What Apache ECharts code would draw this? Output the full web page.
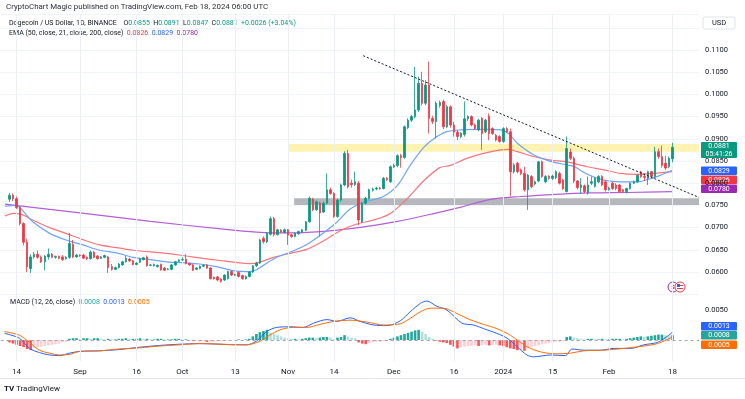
<!DOCTYPE html>
<html>
<head>
<meta charset="utf-8">
<script src="https://cdn.jsdelivr.net/npm/echarts@6/dist/echarts.min.js"></script>
<style>
  html, body { margin: 0; padding: 0; background: #fff; }
  #chart { width: 745px; height: 399px; }
</style>
</head>
<body>
<div id="chart"></div>
<script>
  // daily candles from 2023-08-14, [open, close, low, high]
  const candles = [
    [0.0764,0.0773,0.0758,0.0778],[0.0773,0.0765,0.0760,0.0777],[0.0765,0.0745,0.0742,0.0770],[0.0745,0.0709,0.0705,0.0748],
    [0.0709,0.0667,0.0660,0.0712],[0.0667,0.0612,0.0600,0.0675],[0.0608,0.0634,0.0598,0.0640],[0.0634,0.0640,0.0630,0.0645],
    [0.0640,0.0633,0.0630,0.0648],[0.0633,0.0623,0.0620,0.0637],[0.0623,0.0636,0.0604,0.0638],[0.0634,0.0640,0.0628,0.0653],
    [0.0640,0.0633,0.0631,0.0643],[0.0633,0.0635,0.0630,0.0637],[0.0635,0.0631,0.0629,0.0637],[0.0634,0.0628,0.0625,0.0638],
    [0.0630,0.0633,0.0628,0.0636],[0.0633,0.0664,0.0630,0.0688],[0.0662,0.0634,0.0631,0.0672],[0.0634,0.0638,0.0632,0.0641],
    [0.0638,0.0637,0.0634,0.0640],[0.0638,0.0631,0.0629,0.0641],[0.0633,0.0630,0.0627,0.0635],[0.0630,0.0645,0.0628,0.0648],
    [0.0645,0.0633,0.0631,0.0647],[0.0636,0.0630,0.0628,0.0638],[0.0631,0.0634,0.0629,0.0636],[0.0633,0.0637,0.0631,0.0639],
    [0.0634,0.0610,0.0598,0.0636],[0.0612,0.0606,0.0603,0.0618],[0.0606,0.0610,0.0604,0.0612],[0.0610,0.0618,0.0608,0.0620],
    [0.0616,0.0623,0.0614,0.0625],[0.0623,0.0631,0.0621,0.0636],[0.0629,0.0625,0.0623,0.0632],[0.0625,0.0617,0.0615,0.0627],
    [0.0617,0.0620,0.0615,0.0622],[0.0622,0.0630,0.0620,0.0632],[0.0628,0.0632,0.0626,0.0634],[0.0634,0.0614,0.0612,0.0637],
    [0.0615,0.0616,0.0613,0.0618],[0.0614,0.0617,0.0612,0.0619],[0.0612,0.0615,0.0610,0.0617],[0.0617,0.0605,0.0603,0.0619],
    [0.0609,0.0604,0.0602,0.0611],[0.0606,0.0607,0.0604,0.0609],[0.0606,0.0616,0.0604,0.0618],[0.0616,0.0623,0.0614,0.0625],
    [0.0624,0.0627,0.0622,0.0629],[0.0627,0.0628,0.0625,0.0633],[0.0629,0.0619,0.0617,0.0640],[0.0619,0.0616,0.0614,0.0621],
    [0.0616,0.0604,0.0602,0.0618],[0.0606,0.0609,0.0604,0.0611],[0.0608,0.0613,0.0606,0.0615],[0.0613,0.0615,0.0611,0.0617],
    [0.0616,0.0609,0.0607,0.0618],[0.0609,0.0585,0.0583,0.0611],[0.0588,0.0585,0.0583,0.0590],[0.0589,0.0582,0.0579,0.0591],
    [0.0584,0.0579,0.0576,0.0586],[0.0582,0.0593,0.0580,0.0595],[0.0585,0.0601,0.0583,0.0603],[0.0601,0.0593,0.0591,0.0603],
    [0.0593,0.0594,0.0591,0.0596],[0.0599,0.0590,0.0588,0.0601],[0.0592,0.0585,0.0583,0.0594],[0.0585,0.0590,0.0583,0.0592],
    [0.0590,0.0600,0.0588,0.0602],[0.0600,0.0614,0.0598,0.0616],[0.0614,0.0620,0.0611,0.0623],[0.0620,0.0672,0.0618,0.0675],
    [0.0676,0.0668,0.0664,0.0680],[0.0668,0.0687,0.0665,0.0690],[0.0685,0.0720,0.0682,0.0725],[0.0720,0.0684,0.0680,0.0724],
    [0.0684,0.0695,0.0682,0.0697],[0.0694,0.0690,0.0688,0.0697],[0.0689,0.0695,0.0687,0.0698],[0.0695,0.0683,0.0661,0.0697],
    [0.0684,0.0680,0.0677,0.0686],[0.0680,0.0687,0.0678,0.0689],[0.0686,0.0691,0.0684,0.0693],[0.0690,0.0695,0.0688,0.0697],
    [0.0694,0.0713,0.0692,0.0715],[0.0713,0.0766,0.0711,0.0770],[0.0764,0.0740,0.0737,0.0767],[0.0740,0.0758,0.0738,0.0761],
    [0.0755,0.0733,0.0680,0.0758],[0.0735,0.0755,0.0733,0.0758],[0.0755,0.0785,0.0752,0.0822],[0.0785,0.0777,0.0774,0.0790],
    [0.0777,0.0725,0.0722,0.0780],[0.0725,0.0762,0.0722,0.0765],[0.0762,0.0796,0.0758,0.0799],[0.0796,0.0867,0.0793,0.0872],
    [0.0867,0.0792,0.0788,0.0875],[0.0800,0.0797,0.0790,0.0808],[0.0797,0.0803,0.0794,0.0826],[0.0800,0.0717,0.0705,0.0805],
    [0.0713,0.0755,0.0710,0.0758],[0.0755,0.0766,0.0752,0.0769],[0.0766,0.0785,0.0763,0.0788],[0.0784,0.0787,0.0781,0.0790],
    [0.0787,0.0789,0.0784,0.0792],[0.0789,0.0788,0.0785,0.0792],[0.0788,0.0811,0.0786,0.0814],[0.0811,0.0808,0.0805,0.0814],
    [0.0803,0.0837,0.0801,0.0840],[0.0837,0.0840,0.0834,0.0844],[0.0840,0.0862,0.0836,0.0865],[0.0862,0.0858,0.0835,0.0866],
    [0.0858,0.0927,0.0855,0.0930],[0.0925,0.0942,0.0922,0.0946],[0.0942,0.0950,0.0938,0.0954],[0.0950,0.0965,0.0946,0.1062],
    [0.0965,0.1025,0.0960,0.1040],[0.1025,0.0980,0.0975,0.1051],[0.0980,0.1021,0.0976,0.1032],[0.1021,0.0946,0.0912,0.1074],
    [0.0946,0.0939,0.0933,0.0952],[0.0939,0.0980,0.0901,0.0984],[0.0975,0.0982,0.0970,0.0986],[0.0984,0.0927,0.0922,0.0988],
    [0.0927,0.0972,0.0924,0.0976],[0.0972,0.0931,0.0925,0.0975],[0.0931,0.0915,0.0905,0.0938],[0.0915,0.0905,0.0897,0.0920],
    [0.0905,0.0912,0.0901,0.0915],[0.0910,0.0945,0.0905,0.0984],[0.0945,0.0950,0.0940,0.0953],[0.0950,0.0931,0.0928,0.0953],
    [0.0931,0.0923,0.0920,0.0934],[0.0920,0.0942,0.0917,0.0945],[0.0946,0.0912,0.0875,0.0949],[0.0916,0.0942,0.0913,0.0945],
    [0.0951,0.0912,0.0897,0.0957],[0.0923,0.0912,0.0909,0.0926],[0.0908,0.0897,0.0894,0.0911],[0.0905,0.0894,0.0891,0.0908],
    [0.0894,0.0923,0.0891,0.0926],[0.0923,0.0916,0.0913,0.0926],[0.0916,0.0826,0.0770,0.0923],[0.0826,0.0841,0.0822,0.0845],
    [0.0845,0.0826,0.0822,0.0848],[0.0830,0.0822,0.0818,0.0833],[0.0822,0.0785,0.0781,0.0837],[0.0785,0.0818,0.0740,0.0821],
    [0.0815,0.0792,0.0789,0.0818],[0.0798,0.0803,0.0795,0.0806],[0.0805,0.0848,0.0802,0.0850],[0.0848,0.0815,0.0812,0.0851],
    [0.0803,0.0815,0.0800,0.0818],[0.0815,0.0811,0.0808,0.0818],[0.0811,0.0816,0.0807,0.0819],[0.0812,0.0826,0.0809,0.0829],
    [0.0822,0.0800,0.0797,0.0826],[0.0807,0.0788,0.0785,0.0810],[0.0781,0.0878,0.0779,0.0905],[0.0870,0.0856,0.0852,0.0878],
    [0.0856,0.0805,0.0800,0.0860],[0.0805,0.0790,0.0786,0.0807],[0.0790,0.0796,0.0777,0.0811],[0.0794,0.0781,0.0778,0.0797],
    [0.0779,0.0796,0.0774,0.0815],[0.0800,0.0803,0.0796,0.0815],[0.0793,0.0811,0.0790,0.0814],[0.0803,0.0815,0.0800,0.0818],
    [0.0815,0.0796,0.0793,0.0818],[0.0803,0.0785,0.0781,0.0806],[0.0786,0.0789,0.0783,0.0792],[0.0800,0.0788,0.0785,0.0803],
    [0.0796,0.0788,0.0784,0.0800],[0.0796,0.0781,0.0778,0.0798],[0.0785,0.0781,0.0778,0.0787],[0.0781,0.0788,0.0777,0.0790],
    [0.0788,0.0800,0.0786,0.0802],[0.0800,0.0803,0.0798,0.0806],[0.0803,0.0818,0.0801,0.0820],[0.0825,0.0815,0.0812,0.0828],
    [0.0815,0.0813,0.0805,0.0822],[0.0811,0.0826,0.0796,0.0828],[0.0826,0.0815,0.0812,0.0828],[0.0815,0.0871,0.0811,0.0882],
    [0.0871,0.0860,0.0855,0.0878],[0.0860,0.0840,0.0835,0.0885],[0.0845,0.0834,0.0830,0.0862],[0.0837,0.0856,0.0834,0.0860],
    [0.0855,0.0881,0.0847,0.0891]
  ];

  // MACD histogram, one value per candle
  const macdHist = [
    -0.0004,-0.0006,-0.0008,-0.0010,-0.0012,-0.0015,-0.0017,-0.0013,-0.0012,-0.0011,-0.0010,-0.0009,-0.0008,-0.0007,-0.0006,-0.0004,
    -0.0003,0.0002,0.0003,0.0003,0.0002,0.0003,0.0003,0.0002,0.0003,0.0003,0.0002,0.0001,0.0002,0.0001,0.0001,0.0002,
    0.0002,0.0003,0.0002,0.0002,0.0002,0.0003,0.0002,0.0002,0.0001,0.0001,0.0002,0.0002,0.0001,0.0001,0.0001,0.0002,
    0.0002,0.0001,0.0001,0.0000,-0.0001,-0.0001,-0.0002,-0.0002,-0.0003,-0.0003,-0.0003,-0.0002,-0.0002,-0.0001,-0.0001,0.0000,
    0.0000,0.0001,0.0000,0.0001,0.0002,0.0006,0.0010,0.0013,0.0015,0.0017,0.0012,0.0010,0.0008,0.0006,0.0004,0.0003,
    0.0002,0.0002,0.0001,0.0002,0.0003,0.0004,0.0004,0.0003,0.0004,0.0005,0.0005,0.0004,0.0002,0.0004,0.0005,0.0008,
    0.0006,0.0004,0.0003,-0.0004,-0.0006,-0.0007,-0.0005,-0.0004,-0.0003,-0.0003,-0.0002,-0.0001,0.0002,0.0004,0.0006,0.0008,
    0.0010,0.0012,0.0014,0.0016,0.0017,0.0014,0.0010,0.0005,0.0002,-0.0001,-0.0003,-0.0004,-0.0005,-0.0008,-0.0011,-0.0014,
    -0.0012,-0.0011,-0.0010,-0.0010,-0.0009,-0.0010,-0.0009,-0.0008,-0.0009,-0.0008,-0.0008,-0.0009,-0.0010,-0.0012,-0.0014,-0.0015,
    -0.0017,-0.0017,-0.0018,-0.0014,-0.0012,-0.0010,-0.0009,-0.0007,-0.0006,-0.0005,-0.0004,-0.0003,-0.0003,-0.0002,0.0005,0.0006,
    0.0004,0.0003,0.0002,0.0001,0.0002,0.0002,0.0001,0.0001,0.0002,0.0001,0.0001,0.0002,0.0002,0.0002,0.0001,0.0002,
    0.0003,0.0004,0.0005,0.0006,0.0005,0.0006,0.0007,0.0008,0.0009,0.0009,0.0008,0.0007,0.0008
  ];

  // indicator lines, [day, value]
  const ema21 = [[-1.3,0.0748],[2,0.0750],[4,0.0736],[6.6,0.0713],[11.4,0.0687],[16,0.0672],[20.8,0.0661],[25.6,0.0649],
    [30.3,0.0643],[35,0.0633],[39.8,0.0628],[44.5,0.0623],[49.2,0.0621],[54,0.0618],[58.7,0.0612],[63.4,0.0603],[68,0.0601],
    [70,0.0605],[75,0.0630],[80,0.0646],[84.3,0.0662],[89,0.0688],[92.8,0.0712],[96.6,0.0742],[100.6,0.0757],[106,0.0770],
    [110,0.0795],[113.6,0.0840],[117.4,0.0880],[120.3,0.0900],[124,0.0916],[128,0.0920],[134.4,0.0921],[139.2,0.0920],
    [141.5,0.0912],[144,0.0890],[148.6,0.0864],[153.4,0.0849],[158.1,0.0841],[160,0.0838],[163.8,0.0820],[168.5,0.0807],
    [173.3,0.0803],[178,0.0803],[181.8,0.0810],[184.6,0.0818],[188,0.0829]];
  const ema50 = [[-1.3,0.0726],[1,0.0732],[3,0.0731],[6.6,0.0717],[11.4,0.0700],[16,0.0687],[20.8,0.0673],[25.6,0.0661],
    [30.3,0.0655],[35,0.0649],[44.5,0.0642],[50,0.0636],[58.7,0.0627],[68,0.0619],[70,0.0620],[74.8,0.0633],[79.5,0.0642],
    [84.3,0.0651],[89,0.0670],[93.8,0.0693],[98.5,0.0708],[103.2,0.0717],[108,0.0732],[112.7,0.0765],[117.4,0.0805],
    [122,0.0835],[125,0.0840],[129.7,0.0856],[134.4,0.0867],[139.2,0.0875],[141.5,0.0876],[144,0.0871],[148.6,0.0860],
    [153.4,0.0852],[158.1,0.0848],[163.8,0.0837],[168.5,0.0830],[173.3,0.0822],[178,0.0820],[182.7,0.0822],[188,0.0826]];
  const ema200 = [[-1.3,0.0753],[20,0.0733],[40,0.0714],[60,0.0697],[70,0.0690],[80,0.0688],[90,0.0692],[100,0.0701],
    [110,0.0714],[120,0.0731],[128,0.0746],[136,0.0763],[145,0.0770],[155,0.0775],[165,0.0778],[175,0.0779],[188,0.0781]];
  const macdLine = [[-1.4,0.0011],[2.8,0.0003],[5.7,-0.0014],[8.5,-0.0021],[11.4,-0.0025],[14.2,-0.0026],[17,-0.0022],
    [19.9,-0.0019],[25.6,-0.0018],[31,-0.0016],[37,-0.0012],[42.6,-0.0009],[48.3,-0.0007],[54,-0.0006],[59.7,-0.0007],
    [63.4,-0.0008],[67.2,-0.0008],[70,-0.0002],[72.9,0.0014],[75.8,0.0021],[79.5,0.0022],[83.3,0.0021],[86.2,0.0028],
    [90,0.0034],[92.8,0.0031],[96.6,0.0037],[99.4,0.0031],[103.2,0.0025],[107,0.0024],[110.8,0.0032],[113.6,0.0047],
    [116.5,0.0061],[118.3,0.0065],[121.2,0.0056],[124,0.0050],[128.3,0.0028],[131.6,0.0025],[134.4,0.0019],[138.2,0.0011],
    [141.1,0.0003],[143.9,-0.0011],[146.7,-0.0025],[148.6,-0.0028],[153.4,-0.0025],[157.6,-0.0026],[159.5,-0.0015],
    [162.9,-0.0017],[167.6,-0.0017],[171.4,-0.0014],[176.1,-0.0014],[179.9,-0.0008],[183.7,-0.0004],[186.5,0.0006],[188,0.0013]];
  const signalLine = [[-1.4,0.0014],[2.8,0.0008],[5.7,-0.0004],[8.5,-0.0017],[11.4,-0.0022],[14.2,-0.0025],[17,-0.0024],
    [19.9,-0.0019],[25.6,-0.0018],[31,-0.0015],[37,-0.0013],[42.6,-0.0010],[48.3,-0.0008],[54,-0.0006],[59.7,-0.0007],
    [67.2,-0.0008],[71,-0.0002],[73.8,0.0008],[76.7,0.0017],[80.5,0.0021],[84.3,0.0021],[88,0.0026],[91.9,0.0031],
    [96.6,0.0033],[101.3,0.0030],[106,0.0025],[110.8,0.0027],[113.6,0.0036],[116.5,0.0047],[119.3,0.0053],[123,0.0053],
    [125.9,0.0047],[129.7,0.0036],[134.4,0.0026],[138.2,0.0019],[142,0.0008],[144.9,-0.0004],[147.7,-0.0014],
    [151.5,-0.0021],[155.3,-0.0023],[159,-0.0022],[162.9,-0.0018],[168.5,-0.0017],[174.2,-0.0014],[179.9,-0.0010],
    [183.7,-0.0006],[188,0.0005]];

  // drawings
  const trendLine = [[100.3, 0.1087], [195.5, 0.0768]];
  const yellowZone = { from: 79, low: 0.0871, high: 0.0888 };
  const grayZone = { from: 80.7, low: 0.0751, high: 0.0766 };

  const tickDays = [2, 20, 36, 49, 64, 79, 92, 109, 126, 140, 154, 170, 188];
  const tickText = ['14', 'Sep', '16', 'Oct', '13', 'Nov', '14', 'Dec', '16', '2024', '15', 'Feb', '18'];

  const LEAD = 2, SLOTS = 198;
  const FONT = 'Roboto, "Noto Sans", sans-serif';
  const UP = '#089981', DOWN = '#f23645';

  const cats = [];
  for (let k = 0; k < SLOTS; k++) {
    const t = new Date(Date.UTC(2023, 7, 14) + (k - LEAD) * 86400000);
    cats.push(t.toISOString().slice(0, 10));
  }
  const tickMap = {};
  tickDays.forEach((d, i) => { tickMap[d + LEAD] = tickText[i]; });

  function histColor(v, prev) {
    if (v >= 0) return v >= prev ? '#26a69a' : '#b2dfdb';
    return v < prev ? '#ff5252' : '#ffcdd2';
  }

  const chart = echarts.init(document.getElementById('chart'), null, { renderer: 'canvas' });

  const vGrid = tickDays.map(d => ({ xAxis: d }));
  const small = '7px ' + FONT;

  const option = {
    animation: false,
    backgroundColor: '#fff',
    textStyle: { fontFamily: FONT },
    grid: [
      { left: 0.68, right: 46, top: 14, height: 280.2 },
      { left: 0.68, right: 46, top: 295, height: 66 }
    ],
    xAxis: [
      { type: 'category', gridIndex: 0, data: cats, boundaryGap: true,
        axisLine: { show: false }, axisTick: { show: false }, axisLabel: { show: false }, splitLine: { show: false } },
      { type: 'value', gridIndex: 0, min: -2.5, max: 195.5, show: false },
      { type: 'category', gridIndex: 1, data: cats, boundaryGap: true,
        axisLine: { show: false }, axisTick: { show: false }, splitLine: { show: false },
        axisLabel: { interval: (i) => tickMap[i] !== undefined, formatter: (v, i) => tickMap[i] || '',
          color: '#131722', fontSize: 8, margin: 7, hideOverlap: false } },
      { type: 'value', gridIndex: 1, min: -2.5, max: 195.5, show: false }
    ],
    yAxis: [
      { type: 'value', gridIndex: 0, position: 'right', min: 0.055, max: 0.1181, interval: 0.005,
        axisLine: { show: false }, axisTick: { show: false },
        axisLabel: { color: '#131722', fontSize: 7.5, margin: 6, showMaxLabel: false,
          formatter: v => (v > 0.1105 || v < 0.0575) ? '' : v.toFixed(4) },
        splitLine: { lineStyle: { color: '#f0f3fa', width: 1 } } },
      { type: 'value', gridIndex: 1, position: 'right', min: -0.0035, max: 0.0075, interval: 0.0005,
        axisLine: { show: false }, axisTick: { show: false }, splitLine: { show: false },
        axisLabel: { color: '#131722', fontSize: 7.5, margin: 6, showMaxLabel: false,
          formatter: v => Math.abs(v - 0.005) < 1e-9 ? '0.0050' : '' } }
    ],
    series: [
      { name: 'zones', type: 'line', xAxisIndex: 1, yAxisIndex: 0, data: [], silent: true, z: 1,
        markArea: { silent: true, data: [
          [{ xAxis: yellowZone.from, yAxis: yellowZone.low, itemStyle: { color: 'rgba(252,226,70,0.42)' } },
           { xAxis: 195.5, yAxis: yellowZone.high }],
          [{ xAxis: grayZone.from, yAxis: grayZone.low, itemStyle: { color: 'rgba(120,123,134,0.55)' } },
           { xAxis: 195.5, yAxis: grayZone.high }]
        ] },
        markLine: { silent: true, symbol: 'none', label: { show: false },
          lineStyle: { color: '#eceff4', width: 1, type: 'solid' }, data: vGrid } },
      { name: 'EMA200', type: 'line', xAxisIndex: 1, yAxisIndex: 0, data: ema200, showSymbol: false, smooth: 0.3,
        lineStyle: { color: '#b35fd5', width: 1.2 }, z: 3 },
      { name: 'EMA50', type: 'line', xAxisIndex: 1, yAxisIndex: 0, data: ema50, showSymbol: false, smooth: 0.3,
        lineStyle: { color: '#f6767e', width: 1.2 }, z: 3 },
      { name: 'EMA21', type: 'line', xAxisIndex: 1, yAxisIndex: 0, data: ema21, showSymbol: false, smooth: 0.3,
        lineStyle: { color: '#6ea4f5', width: 1.2 }, z: 3 },
      { name: 'DOGE', type: 'candlestick', xAxisIndex: 0, yAxisIndex: 0,
        data: candles.map((c, i) => [i + LEAD, c[0], c[1], c[2], c[3]]),
        encode: { x: 0, y: [1, 2, 3, 4] }, barWidth: 2, z: 5,
        itemStyle: { color: UP, color0: DOWN, borderColor: UP, borderColor0: DOWN, borderWidth: 0.8 } },
      { name: 'trend', type: 'line', xAxisIndex: 1, yAxisIndex: 0, data: trendLine, showSymbol: false, z: 6,
        lineStyle: { color: '#131722', width: 1, type: [2, 2] } },
      { name: 'macdGrid', type: 'line', xAxisIndex: 3, yAxisIndex: 1, data: [], silent: true, z: 1,
        markLine: { silent: true, symbol: 'none', label: { show: false },
          data: [
            ...vGrid.map(v => ({ ...v, lineStyle: { color: '#eceff4', width: 1, type: 'solid' } })),
            { yAxis: 0.005, lineStyle: { color: '#eceff4', width: 1, type: 'solid' } },
            { yAxis: 0, lineStyle: { color: '#a3a6af', width: 1, type: [3, 3] } }
          ] } },
      { name: 'Histogram', type: 'bar', xAxisIndex: 2, yAxisIndex: 1, barWidth: 2.6, z: 2,
        data: macdHist.map((v, i) => ({ value: [i + LEAD, v],
          itemStyle: { color: histColor(v, i ? macdHist[i - 1] : 0) } })) },
      { name: 'MACD', type: 'line', xAxisIndex: 3, yAxisIndex: 1, data: macdLine, showSymbol: false, smooth: 0.3,
        lineStyle: { color: '#2962ff', width: 1 }, z: 4 },
      { name: 'Signal', type: 'line', xAxisIndex: 3, yAxisIndex: 1, data: signalLine, showSymbol: false, smooth: 0.3,
        lineStyle: { color: '#ff6d00', width: 1 }, z: 4 }
    ],
    graphic: [
      { type: 'text', x: 6, y: 7, style: { text: 'CryptoChart Magic published on TradingView.com, Feb 18, 2024 06:00 UTC',
        font: '7.9px ' + FONT, fill: '#2a2e39', verticalAlign: 'middle' } },
      { type: 'text', x: 9, y: 23, style: {
        text: '{n|Dogecoin / US Dollar, 1D, BINANCE}  {n|O}{g|0.0855} {n|H}{g|0.0891} {n|L}{g|0.0847} {n|C}{g|0.0881} {g|+0.0026 (+3.04%)}',
        verticalAlign: 'middle',
        rich: { n: { font: small, fill: '#131722' }, g: { font: small, fill: UP } } } },
      { type: 'text', x: 9, y: 33, style: {
        text: '{n|EMA (50, close, 21, close, 200, close)} {r|0.0826} {b|0.0829} {p|0.0780}',
        verticalAlign: 'middle',
        rich: { n: { font: small, fill: '#131722' }, r: { font: small, fill: '#f23645' },
          b: { font: small, fill: '#2962ff' }, p: { font: small, fill: '#9c27b0' } } } },
      { type: 'text', x: 10, y: 302, style: {
        text: '{n|MACD (12, 26, close)} {t|0.0008} {b|0.0013} {o|0.0005}',
        verticalAlign: 'middle',
        rich: { n: { font: small, fill: '#131722' }, t: { font: small, fill: '#26a69a' },
          b: { font: small, fill: '#2962ff' }, o: { font: small, fill: '#ff6d00' } } } },
      // USD box
      { type: 'rect', shape: { x: 703, y: 17, width: 32, height: 12, r: 2 },
        style: { fill: '#fff', stroke: '#e0e3eb', lineWidth: 1 } },
      { type: 'text', x: 719, y: 23, style: { text: 'USD', font: '7.5px ' + FONT, fill: '#131722', align: 'center', verticalAlign: 'middle' } },
      // price tags
      { type: 'rect', shape: { x: 701, y: 142, width: 36, height: 16, r: 1 }, style: { fill: UP } },
      { type: 'text', x: 719, y: 146.5, style: { text: '0.0881', font: '7px ' + FONT, fill: '#fff', align: 'center', verticalAlign: 'middle' } },
      { type: 'text', x: 719, y: 154, style: { text: '05:41:26', font: '7px ' + FONT, fill: '#fff', align: 'center', verticalAlign: 'middle' } },
      { type: 'rect', shape: { x: 701, y: 166.5, width: 36, height: 8.5, r: 1 }, style: { fill: '#2962ff' } },
      { type: 'text', x: 719, y: 171, style: { text: '0.0829', font: '7px ' + FONT, fill: '#fff', align: 'center', verticalAlign: 'middle' } },
      { type: 'rect', shape: { x: 701, y: 175.5, width: 36, height: 8.5, r: 1 }, style: { fill: '#f23645' } },
      { type: 'text', x: 719, y: 180, style: { text: '0.0826', font: '7px ' + FONT, fill: '#fff', align: 'center', verticalAlign: 'middle' } },
      { type: 'rect', shape: { x: 701, y: 184.5, width: 36, height: 8.5, r: 1 }, style: { fill: '#9c27b0' } },
      { type: 'text', x: 719, y: 189, style: { text: '0.0780', font: '7px ' + FONT, fill: '#fff', align: 'center', verticalAlign: 'middle' } },
      { type: 'rect', shape: { x: 701, y: 322, width: 36, height: 8.5, r: 1 }, style: { fill: '#2962ff' } },
      { type: 'text', x: 719, y: 326.5, style: { text: '0.0013', font: '7px ' + FONT, fill: '#fff', align: 'center', verticalAlign: 'middle' } },
      { type: 'rect', shape: { x: 701, y: 331, width: 36, height: 8.5, r: 1 }, style: { fill: '#26a69a' } },
      { type: 'text', x: 719, y: 335.5, style: { text: '0.0008', font: '7px ' + FONT, fill: '#fff', align: 'center', verticalAlign: 'middle' } },
      { type: 'rect', shape: { x: 701, y: 340.5, width: 36, height: 8.5, r: 1 }, style: { fill: '#ff6d00' } },
      { type: 'text', x: 719, y: 345, style: { text: '0.0005', font: '7px ' + FONT, fill: '#fff', align: 'center', verticalAlign: 'middle' } },
      // event markers
      { type: 'circle', shape: { cx: 673, cy: 287, r: 5 }, style: { fill: '#fff', stroke: '#9c27b0', lineWidth: 1 } },
      { type: 'text', x: 673, y: 287, style: { text: '$', font: 'bold 6px ' + FONT, fill: '#9c27b0', align: 'center', verticalAlign: 'middle' } },
      { type: 'circle', shape: { cx: 680, cy: 287, r: 5 }, style: { fill: '#fff', stroke: '#f23645', lineWidth: 1 } },
      { type: 'rect', shape: { x: 677, y: 284, width: 3, height: 3 }, style: { fill: '#2962ff' } },
      { type: 'rect', shape: { x: 680, y: 285, width: 3, height: 1 }, style: { fill: '#f23645' } },
      { type: 'rect', shape: { x: 677, y: 288, width: 6, height: 1 }, style: { fill: '#f23645' } },
      // bottom border and logo
      { type: 'line', shape: { x1: 0, y1: 378.5, x2: 745, y2: 378.5 }, style: { stroke: '#e0e3eb', lineWidth: 1 } },
      { type: 'text', x: 4, y: 389, style: { text: 'TV', font: 'bold 8px ' + FONT, fill: '#131722', verticalAlign: 'middle' } },
      { type: 'text', x: 16, y: 389, style: { text: 'TradingView', font: '8px ' + FONT, fill: '#131722', verticalAlign: 'middle' } }
    ]
  };

  chart.setOption(option);
  window.addEventListener('resize', () => chart.resize());
</script>
</body>
</html>
